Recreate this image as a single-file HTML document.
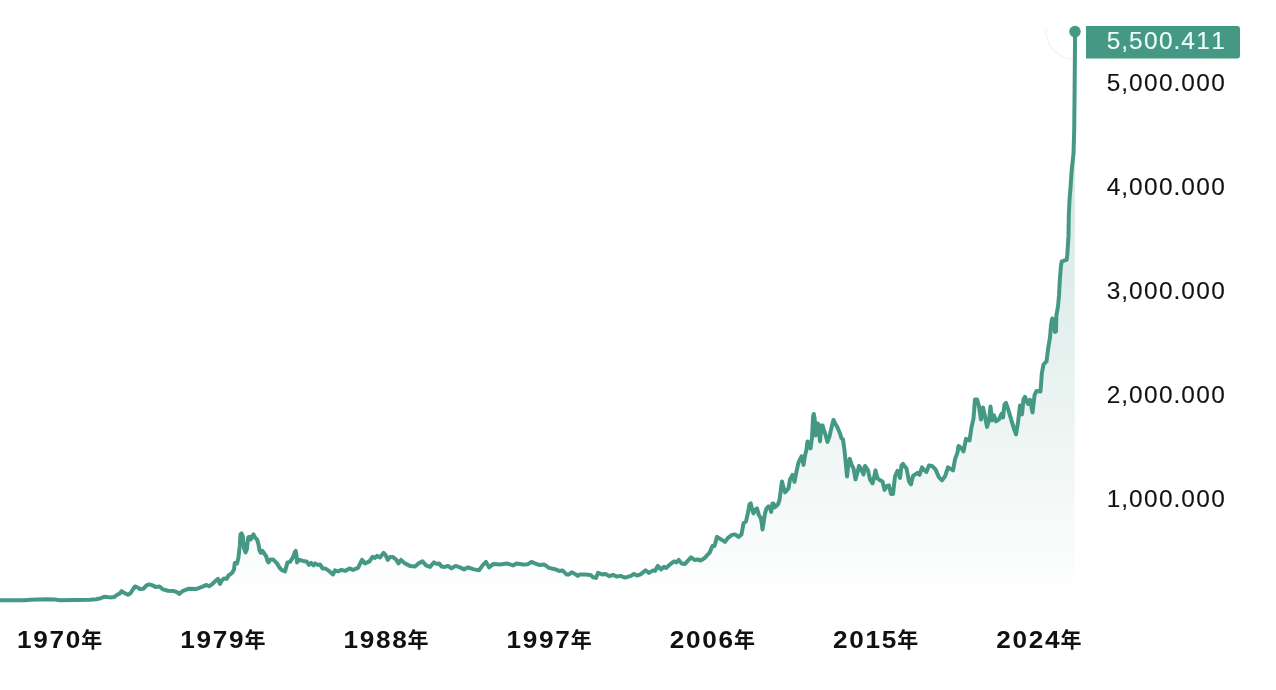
<!DOCTYPE html>
<html lang="ja">
<head>
<meta charset="utf-8">
<title>Chart</title>
<style>
html,body{margin:0;padding:0;background:#fff;}
body{width:1276px;height:690px;overflow:hidden;position:relative;font-family:"Liberation Sans","Noto Sans CJK JP",sans-serif;}
svg{position:absolute;left:0;top:0;display:block;}
.yl{font-family:"Liberation Sans",sans-serif;font-size:23.5px;fill:#111;stroke:#111;stroke-width:0.1px;}
.xl{font-family:"Liberation Sans","Noto Sans CJK JP",sans-serif;font-size:24.7px;font-weight:700;fill:#111;}
.xk{font-family:"Liberation Sans","Noto Sans CJK JP",sans-serif;font-size:21px;font-weight:700;fill:#111;}
.bt{font-family:"Liberation Sans",sans-serif;font-size:23.5px;fill:#f0fff9;stroke:#f0fff9;stroke-width:0.1px;}
</style>
</head>
<body>
<svg width="1276" height="690" viewBox="0 0 1276 690">
<defs>
<linearGradient id="g" x1="0" y1="30" x2="0" y2="592" gradientUnits="userSpaceOnUse">
<stop offset="0" stop-color="#459984" stop-opacity="0.30"/>
<stop offset="0.943" stop-color="#459984" stop-opacity="0.028"/>
<stop offset="1" stop-color="#459984" stop-opacity="0"/>
</linearGradient>
</defs>
<path d="M0,612 L0,600.3 L25,600.2 L30,599.7 L46,599.3 L55,599.6 L60,600.3 L75,600 L90,599.7 L96,599.2 L100,598.5 L104,596.832 L107,597.056 L110,597.38 L114,597.112 L116,595.628 L118,594.344 L119.5,593.656 L121.5,591.172 L123.5,592.488 L125,593.2 L128,594.724 L130.5,593.244 L133,589.264 L135,586.48 L137.5,587.3 L140,589.12 L143.5,588.648 L146.5,585.372 L149,584.392 L152,585.1 L155.5,586.9 L159.5,586.4 L163,589.4 L168,590.7 L174,591.1 L177,592.2 L179.2,593.9 L182.5,591.2 L189,588.7 L196,589.1 L202,586.9 L206.5,584.9 L209,586.2 L212,584.4 L215,581.4 L218,578.9 L220,583.9 L221.5,580.9 L224,578.4 L226.5,578.9 L228.5,575.6 L232,572.9 L234,569.4 L234.8,562.9 L237,563.4 L238.5,557.4 L239.8,545.4 L240.5,534.4 L241.5,533.4 L242.8,536.4 L244,548.4 L245.5,552.4 L246.8,549.4 L248.2,537.4 L249.5,536.9 L250.8,539.4 L252.2,536.4 L253.5,534.4 L255,537.4 L257.2,539.9 L258.5,544.4 L259.5,550.4 L261,552.9 L262.5,550.9 L264.5,553.9 L266.2,556.4 L267.5,560.9 L268.5,562.4 L270.5,559.4 L273,559.4 L277,563.4 L280,568.4 L282.5,570.4 L285,571.4 L287.5,562.4 L290,561.9 L293,557.4 L294.7,552.4 L295.7,550.9 L296.5,555.4 L297,562.4 L299.5,559.9 L303,560.9 L306.5,561.4 L309,564.9 L311,562.9 L313.5,565.4 L315,563.4 L317.5,564.9 L320,564.4 L322.5,568.4 L325,568.4 L329,570.9 L333,574.4 L335,570.4 L338,571.4 L341.5,569.9 L345,570.9 L349.5,568.4 L353,569.9 L358,567.9 L362,559.9 L365,563.4 L369.5,561.4 L372.5,556.9 L375,557.9 L377,555.9 L380,557.4 L383.5,552.9 L385.5,554.9 L387.8,559.9 L390,556.9 L392.5,556.9 L396,559.4 L398.5,563.4 L401,559.9 L405,563.4 L410,565.9 L415,566.4 L418.5,563.4 L422.5,561.4 L426,565.4 L430,566.9 L434,562.4 L436.5,563.9 L439,563.4 L441.5,566.4 L445,566.9 L448,565.9 L451.5,568.4 L455.5,565.9 L460,567.4 L464,569.4 L468,567.4 L474,569.4 L479,570.2 L483,564.9 L486,561.9 L489,567.4 L493.5,563.9 L500,564.4 L507,563.4 L513,565.4 L516.5,563.6 L523,564.6 L528,564.2 L531.5,561.9 L535,563.4 L539,564.9 L544,564.4 L549,567.9 L555,569.2 L559,570.9 L562.5,570.4 L566.5,574.4 L569,574.4 L571.8,572.2 L575,573.9 L577.8,575.9 L580,574.4 L585,574.4 L590.5,574.9 L593,577.2 L596,577.9 L598,572.9 L602,574.4 L605.5,573.9 L609.5,576.2 L613,574.9 L617,576.6 L620.5,575.9 L625,577.6 L631,575.9 L634,573.9 L637,575.6 L640.5,574.4 L645.5,570.4 L649,572.9 L653,570.4 L655,570.9 L657.8,565.9 L661,569.4 L664,566.9 L666,567.9 L670,564.4 L674,561.4 L676.5,562.4 L678.8,559.9 L681.5,563.4 L685,563.9 L691,557.4 L694.5,559.9 L698,559.4 L700.5,560.6 L705,557.7 L707,555.4 L709.5,552.9 L712.5,545.9 L714.5,545.9 L717,536.9 L721,539.4 L725,541.9 L728,537.9 L732,534.9 L735,534.4 L738.5,536.9 L741.5,534.4 L743.5,523.4 L746,521.4 L748,512.4 L749.5,504.4 L750.8,503.4 L752,509.4 L753.5,513.4 L755.5,509.4 L757,508.4 L759,515.4 L760.5,517.4 L761.5,521.4 L762.5,529.4 L763.5,523.4 L765,513.4 L766.5,508.4 L768.5,506.4 L770,507.9 L771.2,511.9 L772.5,503.4 L773.5,503.4 L774.5,507.4 L776,506.4 L778,504.4 L779.5,499.9 L781,488.4 L782,481.4 L783.5,487.4 L785,492.4 L788.5,488.4 L790,479.4 L792.5,474.9 L794.5,481.9 L796.5,471.4 L798.5,462.4 L801.5,456.4 L803.5,464.9 L805,455.4 L806.5,449.4 L807.5,441.4 L809,443.4 L810.5,448.4 L812,437.4 L813.1,416.4 L813.8,414 L814.6,418.4 L815.2,427.4 L815.8,435.4 L817,423.4 L818.5,423.9 L820,441.4 L821.2,427.4 L822.5,425.4 L824,430.4 L826,436.4 L827.5,441.9 L829.5,436.4 L832,425.4 L833.5,419.9 L835,423.4 L837.5,427.4 L840,433.4 L841.5,438.4 L843,439.4 L844.5,450.4 L846,465.4 L847,476.4 L848.5,463.4 L849.8,458.9 L851.5,464.4 L853.5,468.4 L855.5,479.4 L857.5,472.4 L859,465.9 L861,468.9 L863.5,474.4 L865,465.9 L868,470.4 L870,479.4 L872.5,483.4 L874.5,475.4 L875.5,470.4 L877.5,478.4 L881,480.9 L882.5,481.4 L884.5,489.9 L887,485.9 L889,485.4 L891,493.9 L893,493.9 L895,476.4 L897.5,470.9 L900,477.9 L901.5,465.4 L903,463.9 L906.5,468.4 L909,481.4 L911,484.4 L913,475.9 L917.5,472.9 L919.5,474.9 L922,467.4 L924,469.9 L926.5,471.9 L929,465.4 L932,465.9 L935.5,469.4 L939,477.4 L942,480.4 L945,476.4 L948,467.4 L950.5,468.9 L953,470.4 L955,459.4 L957.5,452.4 L958.5,445.9 L961,447.9 L963.5,451.4 L966,438.9 L969.5,440.4 L971.5,427.4 L973.5,418.4 L975,399.4 L977,399.4 L979,406.4 L981,419.4 L983,407.4 L985,416.4 L987,426.9 L989,420.4 L990.5,406.4 L992,420.4 L994,415.4 L996,421.4 L999,419.4 L1001.5,413.9 L1003,417.4 L1004.5,404.4 L1006,402.9 L1008.5,410.4 L1012,422.4 L1014.5,430.4 L1016,434.4 L1018,422.4 L1020,405.4 L1022,414.4 L1023.5,399.4 L1025,396.9 L1028,403.9 L1030,399.9 L1032.5,412.4 L1034.5,395.4 L1036.5,390.9 L1040.5,391.4 L1041.2,382.4 L1041.8,373.4 L1043.5,364.4 L1046.5,361.4 L1048,349.4 L1050,337.4 L1051,325.4 L1052.2,318.4 L1053.5,320.4 L1055,331.9 L1056,331.4 L1056.4,315.4 L1058,306.4 L1059,295.4 L1059.8,280.4 L1061,265.4 L1061.8,261.4 L1065,260.4 L1066.6,259.9 L1067.3,254.4 L1068,243.4 L1068.5,235.4 L1068.8,215.4 L1069.5,200.4 L1070.6,186.4 L1071.7,170.4 L1073.5,153.4 L1074.2,130.4 L1074.7,80 L1075,45 L1075,32 L1074.5,612 Z" fill="url(#g)"/>
<path d="M1046.4,27 A28.6,28.6 0 0 0 1072.5,59.3" fill="none" stroke="#f3f4f4" stroke-width="1.4"/>
<polyline points="0,600.3 25,600.2 30,599.7 46,599.3 55,599.6 60,600.3 75,600 90,599.7 96,599.2 100,598.5 104,596.832 107,597.056 110,597.38 114,597.112 116,595.628 118,594.344 119.5,593.656 121.5,591.172 123.5,592.488 125,593.2 128,594.724 130.5,593.244 133,589.264 135,586.48 137.5,587.3 140,589.12 143.5,588.648 146.5,585.372 149,584.392 152,585.1 155.5,586.9 159.5,586.4 163,589.4 168,590.7 174,591.1 177,592.2 179.2,593.9 182.5,591.2 189,588.7 196,589.1 202,586.9 206.5,584.9 209,586.2 212,584.4 215,581.4 218,578.9 220,583.9 221.5,580.9 224,578.4 226.5,578.9 228.5,575.6 232,572.9 234,569.4 234.8,562.9 237,563.4 238.5,557.4 239.8,545.4 240.5,534.4 241.5,533.4 242.8,536.4 244,548.4 245.5,552.4 246.8,549.4 248.2,537.4 249.5,536.9 250.8,539.4 252.2,536.4 253.5,534.4 255,537.4 257.2,539.9 258.5,544.4 259.5,550.4 261,552.9 262.5,550.9 264.5,553.9 266.2,556.4 267.5,560.9 268.5,562.4 270.5,559.4 273,559.4 277,563.4 280,568.4 282.5,570.4 285,571.4 287.5,562.4 290,561.9 293,557.4 294.7,552.4 295.7,550.9 296.5,555.4 297,562.4 299.5,559.9 303,560.9 306.5,561.4 309,564.9 311,562.9 313.5,565.4 315,563.4 317.5,564.9 320,564.4 322.5,568.4 325,568.4 329,570.9 333,574.4 335,570.4 338,571.4 341.5,569.9 345,570.9 349.5,568.4 353,569.9 358,567.9 362,559.9 365,563.4 369.5,561.4 372.5,556.9 375,557.9 377,555.9 380,557.4 383.5,552.9 385.5,554.9 387.8,559.9 390,556.9 392.5,556.9 396,559.4 398.5,563.4 401,559.9 405,563.4 410,565.9 415,566.4 418.5,563.4 422.5,561.4 426,565.4 430,566.9 434,562.4 436.5,563.9 439,563.4 441.5,566.4 445,566.9 448,565.9 451.5,568.4 455.5,565.9 460,567.4 464,569.4 468,567.4 474,569.4 479,570.2 483,564.9 486,561.9 489,567.4 493.5,563.9 500,564.4 507,563.4 513,565.4 516.5,563.6 523,564.6 528,564.2 531.5,561.9 535,563.4 539,564.9 544,564.4 549,567.9 555,569.2 559,570.9 562.5,570.4 566.5,574.4 569,574.4 571.8,572.2 575,573.9 577.8,575.9 580,574.4 585,574.4 590.5,574.9 593,577.2 596,577.9 598,572.9 602,574.4 605.5,573.9 609.5,576.2 613,574.9 617,576.6 620.5,575.9 625,577.6 631,575.9 634,573.9 637,575.6 640.5,574.4 645.5,570.4 649,572.9 653,570.4 655,570.9 657.8,565.9 661,569.4 664,566.9 666,567.9 670,564.4 674,561.4 676.5,562.4 678.8,559.9 681.5,563.4 685,563.9 691,557.4 694.5,559.9 698,559.4 700.5,560.6 705,557.7 707,555.4 709.5,552.9 712.5,545.9 714.5,545.9 717,536.9 721,539.4 725,541.9 728,537.9 732,534.9 735,534.4 738.5,536.9 741.5,534.4 743.5,523.4 746,521.4 748,512.4 749.5,504.4 750.8,503.4 752,509.4 753.5,513.4 755.5,509.4 757,508.4 759,515.4 760.5,517.4 761.5,521.4 762.5,529.4 763.5,523.4 765,513.4 766.5,508.4 768.5,506.4 770,507.9 771.2,511.9 772.5,503.4 773.5,503.4 774.5,507.4 776,506.4 778,504.4 779.5,499.9 781,488.4 782,481.4 783.5,487.4 785,492.4 788.5,488.4 790,479.4 792.5,474.9 794.5,481.9 796.5,471.4 798.5,462.4 801.5,456.4 803.5,464.9 805,455.4 806.5,449.4 807.5,441.4 809,443.4 810.5,448.4 812,437.4 813.1,416.4 813.8,414 814.6,418.4 815.2,427.4 815.8,435.4 817,423.4 818.5,423.9 820,441.4 821.2,427.4 822.5,425.4 824,430.4 826,436.4 827.5,441.9 829.5,436.4 832,425.4 833.5,419.9 835,423.4 837.5,427.4 840,433.4 841.5,438.4 843,439.4 844.5,450.4 846,465.4 847,476.4 848.5,463.4 849.8,458.9 851.5,464.4 853.5,468.4 855.5,479.4 857.5,472.4 859,465.9 861,468.9 863.5,474.4 865,465.9 868,470.4 870,479.4 872.5,483.4 874.5,475.4 875.5,470.4 877.5,478.4 881,480.9 882.5,481.4 884.5,489.9 887,485.9 889,485.4 891,493.9 893,493.9 895,476.4 897.5,470.9 900,477.9 901.5,465.4 903,463.9 906.5,468.4 909,481.4 911,484.4 913,475.9 917.5,472.9 919.5,474.9 922,467.4 924,469.9 926.5,471.9 929,465.4 932,465.9 935.5,469.4 939,477.4 942,480.4 945,476.4 948,467.4 950.5,468.9 953,470.4 955,459.4 957.5,452.4 958.5,445.9 961,447.9 963.5,451.4 966,438.9 969.5,440.4 971.5,427.4 973.5,418.4 975,399.4 977,399.4 979,406.4 981,419.4 983,407.4 985,416.4 987,426.9 989,420.4 990.5,406.4 992,420.4 994,415.4 996,421.4 999,419.4 1001.5,413.9 1003,417.4 1004.5,404.4 1006,402.9 1008.5,410.4 1012,422.4 1014.5,430.4 1016,434.4 1018,422.4 1020,405.4 1022,414.4 1023.5,399.4 1025,396.9 1028,403.9 1030,399.9 1032.5,412.4 1034.5,395.4 1036.5,390.9 1040.5,391.4 1041.2,382.4 1041.8,373.4 1043.5,364.4 1046.5,361.4 1048,349.4 1050,337.4 1051,325.4 1052.2,318.4 1053.5,320.4 1055,331.9 1056,331.4 1056.4,315.4 1058,306.4 1059,295.4 1059.8,280.4 1061,265.4 1061.8,261.4 1065,260.4 1066.6,259.9 1067.3,254.4 1068,243.4 1068.5,235.4 1068.8,215.4 1069.5,200.4 1070.6,186.4 1071.7,170.4 1073.5,153.4 1074.2,130.4 1074.7,80 1075,45 1075,32" fill="none" stroke="#459984" stroke-width="4" stroke-linejoin="round" stroke-linecap="round"/>
<circle cx="1075" cy="31.6" r="5.75" fill="#459984"/>
<path d="M1086,26 H1237 a3,3 0 0 1 3,3 V55.6 a3,3 0 0 1 -3,3 H1086 Z" fill="#459984"/>
<text class="bt" transform="translate(1106.75,49.2) scale(1.04,1)" x="0.00 13.99 21.44 35.87 50.29 64.28 71.73 86.15 100.58">5,500.411</text>
<text class="yl" transform="translate(1106.75,91.2) scale(1.04,1)" x="0.00 13.99 21.44 35.87 50.29 64.28 71.73 86.15 100.58">5,000.000</text>
<text class="yl" transform="translate(1106.75,195.2) scale(1.04,1)" x="0.00 13.99 21.44 35.87 50.29 64.28 71.73 86.15 100.58">4,000.000</text>
<text class="yl" transform="translate(1106.75,299.2) scale(1.04,1)" x="0.00 13.99 21.44 35.87 50.29 64.28 71.73 86.15 100.58">3,000.000</text>
<text class="yl" transform="translate(1106.75,403.2) scale(1.04,1)" x="0.00 13.99 21.44 35.87 50.29 64.28 71.73 86.15 100.58">2,000.000</text>
<text class="yl" transform="translate(1106.75,507.2) scale(1.04,1)" x="0.00 13.99 21.44 35.87 50.29 64.28 71.73 86.15 100.58">1,000.000</text>
<text class="xl" x="17" y="648.2"><tspan textLength="65" lengthAdjust="spacingAndGlyphs" letter-spacing="1.6">1970</tspan><tspan class="xk" dx="-0.8" dy="-1.1">年</tspan></text>
<text class="xl" x="180.2" y="648.2"><tspan textLength="65" lengthAdjust="spacingAndGlyphs" letter-spacing="1.6">1979</tspan><tspan class="xk" dx="-0.8" dy="-1.1">年</tspan></text>
<text class="xl" x="343.4" y="648.2"><tspan textLength="65" lengthAdjust="spacingAndGlyphs" letter-spacing="1.6">1988</tspan><tspan class="xk" dx="-0.8" dy="-1.1">年</tspan></text>
<text class="xl" x="506.6" y="648.2"><tspan textLength="65" lengthAdjust="spacingAndGlyphs" letter-spacing="1.6">1997</tspan><tspan class="xk" dx="-0.8" dy="-1.1">年</tspan></text>
<text class="xl" x="669.8" y="648.2"><tspan textLength="65" lengthAdjust="spacingAndGlyphs" letter-spacing="1.6">2006</tspan><tspan class="xk" dx="-0.8" dy="-1.1">年</tspan></text>
<text class="xl" x="833" y="648.2"><tspan textLength="65" lengthAdjust="spacingAndGlyphs" letter-spacing="1.6">2015</tspan><tspan class="xk" dx="-0.8" dy="-1.1">年</tspan></text>
<text class="xl" x="996.2" y="648.2"><tspan textLength="65" lengthAdjust="spacingAndGlyphs" letter-spacing="1.6">2024</tspan><tspan class="xk" dx="-0.8" dy="-1.1">年</tspan></text>
</svg>
</body>
</html>
